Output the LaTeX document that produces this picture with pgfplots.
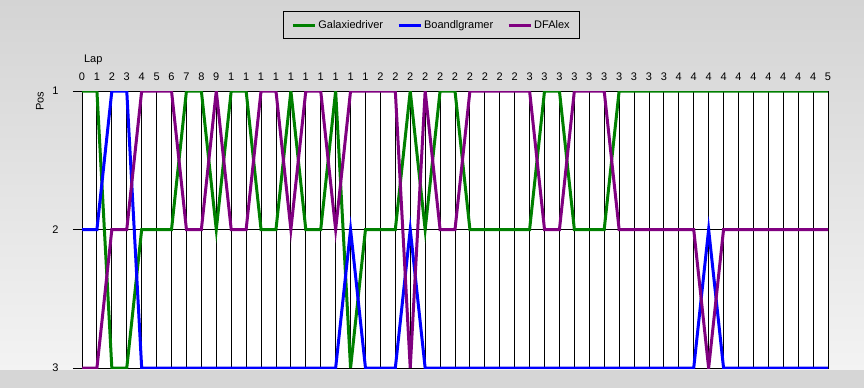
\documentclass[border=0pt]{standalone}
\usepackage{fontspec}
\setmainfont{Liberation Sans}
\usepackage{pgfplots}
\usepackage{pgfplotstable}
\pgfplotsset{compat=1.18}
\definecolor{cG}{RGB}{0,128,0}
\definecolor{cB}{RGB}{0,0,255}
\definecolor{cP}{RGB}{128,0,128}
\definecolor{bgtop}{RGB}{212,212,212}
\definecolor{bgbot}{RGB}{243,243,243}
\definecolor{bgstrip}{RGB}{214,214,214}
\pgfplotstableread{
lap G B D
0 1 2 3
1 1 2 3
2 3 1 2
3 3 1 2
4 2 3 1
5 2 3 1
6 2 3 1
7 1 3 2
8 1 3 2
9 2 3 1
10 1 3 2
11 1 3 2
12 2 3 1
13 2 3 1
14 1 3 2
15 2 3 1
16 2 3 1
17 1 3 2
18 3 2 1
19 2 3 1
20 2 3 1
21 2 3 1
22 1 2 3
23 2 3 1
24 1 3 2
25 1 3 2
26 2 3 1
27 2 3 1
28 2 3 1
29 2 3 1
30 2 3 1
31 1 3 2
32 1 3 2
33 2 3 1
34 2 3 1
35 2 3 1
36 1 3 2
37 1 3 2
38 1 3 2
39 1 3 2
40 1 3 2
41 1 3 2
42 1 2 3
43 1 3 2
44 1 3 2
45 1 3 2
46 1 3 2
47 1 3 2
48 1 3 2
49 1 3 2
50 1 3 2
}\laps
\begin{document}
\begin{tikzpicture}[font=\fontsize{11}{13}\selectfont]
\path[use as bounding box] (0pt,0pt) rectangle (864pt,-388pt);
\shade[top color=bgtop,bottom color=bgbot] (0pt,0pt) rectangle (864pt,-370pt);
\fill[bgstrip] (0pt,-370pt) rectangle (864pt,-388pt);
\begin{axis}[
  at={(82pt,-368pt)}, anchor=south west,
  scale only axis, width=746pt, height=277pt,
  xmin=0, xmax=50, ymin=1, ymax=3, y dir=reverse,
  axis background/.style={fill=white},
  axis line style={black, line width=1pt},
  xtick={0,...,50},
  xticklabels={0,1,2,3,4,5,6,7,8,9,1,1,1,1,1,1,1,1,1,1,2,2,2,2,2,2,2,2,2,2,3,3,3,3,3,3,3,3,3,3,4,4,4,4,4,4,4,4,4,4,5},
  ytick={1,2,3},
  xticklabel pos=upper,
  ytick pos=left,
  tick align=outside,
  x tick style={draw=none},
  y tick style={black, line width=1pt},
  major tick length=9pt,
  xmajorgrids, ymajorgrids,
  grid style={black, line width=0.9pt},
  /pgf/number format/assume math mode=true,
  tick label style={font=\fontsize{11}{13}\selectfont},
  xticklabel style={yshift=-2pt},
  yticklabel style={xshift=-11pt},
  xlabel={Lap},
  xlabel style={at={(axis description cs:-0.002,1.112)}, anchor=west},
  ylabel={Pos},
  ylabel style={at={(axis description cs:-0.0563,0.964)}, anchor=center},
  legend columns=3,
  legend style={at={(axis description cs:0.4685,1.238)}, anchor=center,
    draw=black, line width=1pt, fill=none, inner xsep=8pt, inner ysep=6.5pt,
    font=\fontsize{11}{13}\selectfont,
    /tikz/every even column/.append style={column sep=12pt}},
  legend image code/.code={\draw[#1, line width=3pt] (0pt,0pt) -- (22pt,0pt);},
  every axis plot/.append style={line width=3pt, no markers, sharp plot},
]
\addplot[cG] table[x=lap, y=G] {\laps};
\addlegendentry{Galaxiedriver}
\addplot[cB] table[x=lap, y=B] {\laps};
\addlegendentry{Boandlgramer}
\addplot[cP] table[x=lap, y=D] {\laps};
\addlegendentry{DFAlex}
\end{axis}
\end{tikzpicture}
\end{document}
